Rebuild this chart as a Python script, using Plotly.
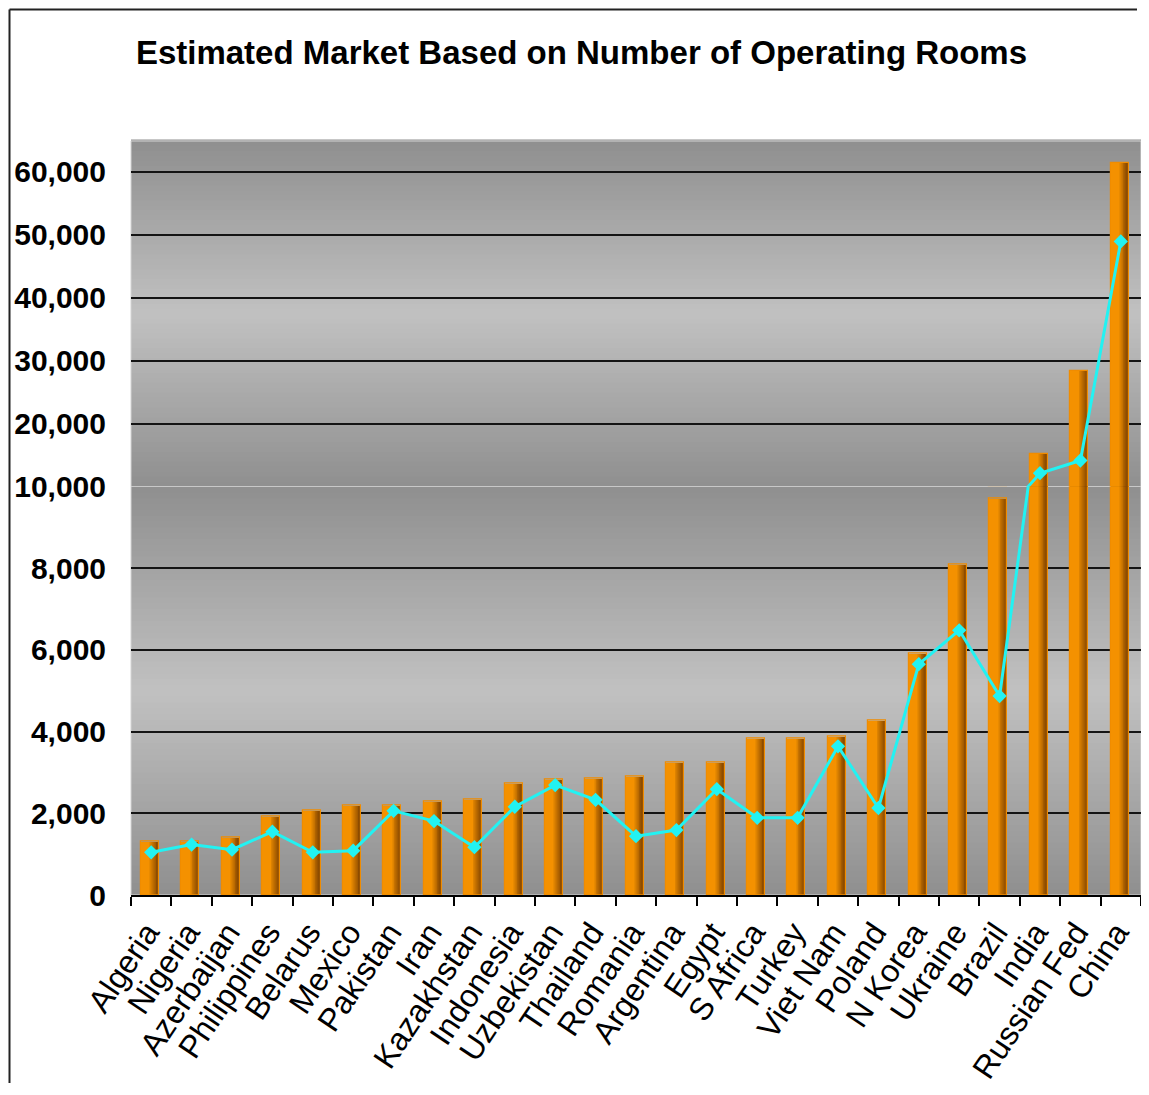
import plotly.graph_objects as go

# ---------------- data ----------------
countries = ["Algeria", "Nigeria", "Azerbaijan", "Philippines", "Belarus", "Mexico",
             "Pakistan", "Iran", "Kazakhstan", "Indonesia", "Uzbekistan", "Thailand",
             "Romania", "Argentina", "Egypt", "S Africa", "Turkey", "Viet Nam", "Poland",
             "N Korea", "Ukraine", "Brazil", "India", "Russian Fed", "China"]
market = [1300, 1300, 1400, 1910, 2080, 2180, 2180, 2300, 2340, 2730, 2820, 2860,
          2900, 3240, 3240, 3830, 3830, 3870, 4260, 5910, 8080, 9700, 15100, 28300, 61350]
line_vals = [1045, 1235, 1110, 1550, 1045, 1085, 2060, 1810, 1170, 2160, 2690, 2330,
             1440, 1590, 2590, 1890, 1890, 3640, 2130, 5650, 6480, 4870, 12110, 14130, 48950]

lower_tickvals = [0, 2000, 4000, 6000, 8000, 10000]
lower_ticktext = ["0", "2,000", "4,000", "6,000", "8,000", "10,000"]
lower_grid = [2000, 4000, 6000, 8000]
upper_tickvals = [20000, 30000, 40000, 50000, 60000]
upper_ticktext = ["20,000", "30,000", "40,000", "50,000", "60,000"]
BREAK = 10000
UPPER_TOP = 64900

TITLE = "Estimated Market Based on Number of Operating Rooms"

# ---------------- geometry ----------------
OFF = 8                      # default page body margin
FIG_W, FIG_H = 1149 - 2 * OFF, 1095 - 2 * OFF
P_LEFT, P_RIGHT = 131 - OFF, 1141 - OFF
P_TOP, P_BOTTOM = 141 - OFF, 895 - OFF
BREAK_Y = 486.5 - OFF
split = (P_BOTTOM - BREAK_Y) / (P_BOTTOM - P_TOP)
PW, PH = P_RIGHT - P_LEFT, P_BOTTOM - P_TOP

FONT = "Liberation Sans, Arial, sans-serif"
ORANGE = (255, 153, 0)
BROWN = (118, 60, 0)
CYAN = "#22F2F2"


def lerp(c1, c2, t):
    t = max(0.0, min(1.0, t))
    return "rgb(%d,%d,%d)" % tuple(round(a + (b - a) * t) for a, b in zip(c1, c2))


def px_x(fx):
    return (fx - P_LEFT) / PW


def px_y(fy):
    return 1 - (fy - P_TOP) / PH


fig = go.Figure()

W = 0.45
L = -W / 2 - 0.03
N_LAYERS = 12
for xa, ya in (("x", "y"), ("x2", "y2")):
    for k in range(N_LAYERS):
        f = 1 - k * (0.58 / N_LAYERS)
        t = (f - 0.42) / 0.58
        fig.add_trace(go.Bar(x=countries, y=market, width=W * f, offset=L,
                             marker=dict(color=lerp(ORANGE, BROWN, t), line=dict(width=0)),
                             xaxis=xa, yaxis=ya, hoverinfo="skip", showlegend=False))
    fig.add_trace(go.Bar(x=countries, y=market, width=W, offset=L,
                         marker=dict(color="rgba(0,0,0,0)",
                                     line=dict(color="#F08C00", width=1.2)),
                         xaxis=xa, yaxis=ya, hoverinfo="skip", showlegend=False))
    fig.add_trace(go.Scatter(x=countries, y=line_vals, mode="lines+markers",
                             line=dict(color=CYAN, width=3),
                             marker=dict(symbol="diamond", size=11, color=CYAN),
                             cliponaxis=True, xaxis=xa, yaxis=ya, showlegend=False))

# background gradient bands (dark - light - dark) in each panel
shapes = []
N_STRIPS = 70
DARK, LIGHT = (143, 143, 143), (193, 193, 193)
for yref, xref in (("y domain", "x domain"), ("y2 domain", "x2 domain")):
    for i in range(N_STRIPS):
        mid = (i + 0.5) / N_STRIPS
        t = 1 - abs(2 * mid - 1)
        shapes.append(dict(type="rect", xref=xref, yref=yref, x0=0, x1=1,
                           y0=i / N_STRIPS, y1=(i + 1) / N_STRIPS + 0.004,
                           fillcolor=lerp(DARK, LIGHT, t), line=dict(width=0),
                           layer="below"))
# light separator line between the two panels and around the plot area
shapes.append(dict(type="line", xref="x domain", yref="y domain", x0=0, x1=1, y0=1, y1=1,
                   line=dict(color="#c8c8c8", width=1), layer="below"))
shapes.append(dict(type="rect", xref="paper", yref="paper", x0=0, x1=1, y0=0, y1=1,
                   line=dict(color="#d4d4d4", width=1), layer="below"))
# outer chart frame (only left and top edges are visible), kept well inside the figure
shapes.append(dict(type="line", xref="paper", yref="paper",
                   x0=px_x(1.5), x1=px_x(1.5), y0=px_y(FIG_H - 4), y1=px_y(1.5),
                   line=dict(color="#222", width=2)))
shapes.append(dict(type="line", xref="paper", yref="paper",
                   x0=px_x(1.5), x1=px_x(FIG_W - 4), y0=px_y(1.5), y1=px_y(1.5),
                   line=dict(color="#222", width=2)))

fig.update_layout(
    width=FIG_W, height=FIG_H,
    margin=dict(l=P_LEFT, r=FIG_W - P_RIGHT, t=P_TOP, b=FIG_H - P_BOTTOM, pad=0, autoexpand=False),
    paper_bgcolor="white", plot_bgcolor="rgba(0,0,0,0)",
    barmode="overlay", bargap=0, showlegend=False,
    font=dict(family=FONT, color="black"),
    title=dict(text=TITLE, font=dict(family=FONT, size=33, color="black", weight="bold"),
               x=(581.5 - OFF) / FIG_W, xref="container", xanchor="center",
               y=1 - (52 - OFF) / FIG_H, yref="container", yanchor="middle"),
    shapes=shapes,
    xaxis=dict(domain=[0, 1], anchor="y", type="category", range=[-0.5, len(countries) - 0.5],
               tickson="boundaries", ticks="outside", ticklen=9, tickwidth=1.5, tickcolor="black",
               showline=True, linecolor="black", linewidth=2, showgrid=False, zeroline=False,
               tickangle=-56, tickfont=dict(family=FONT, size=32, color="black"),
               ticklabelstandoff=4, ticklabelshift=-4,
               automargin=False),
    yaxis=dict(domain=[0, split], anchor="x", range=[0, BREAK], tickmode="array",
               tickvals=lower_tickvals, ticktext=lower_ticktext, ticks="", showgrid=False,
               zeroline=False, showline=False, ticklabelstandoff=24,
               tickfont=dict(family=FONT, size=30, color="black", weight="bold"),
               minor=dict(tickmode="array", tickvals=lower_grid, showgrid=True,
                          gridcolor="#141414", gridwidth=2, ticks=""),
               automargin=False),
    xaxis2=dict(domain=[0, 1], anchor="y2", matches="x", type="category",
                showticklabels=False, ticks="", showline=False, showgrid=False, zeroline=False),
    yaxis2=dict(domain=[split, 1], anchor="x2", range=[BREAK, UPPER_TOP], tickmode="array",
                tickvals=upper_tickvals, ticktext=upper_ticktext, ticks="", showgrid=True,
                gridcolor="#141414", gridwidth=2, zeroline=False, showline=False,
                ticklabelstandoff=24,
                tickfont=dict(family=FONT, size=30, color="black", weight="bold"),
                automargin=False),
)

fig.write_html("out.html")
